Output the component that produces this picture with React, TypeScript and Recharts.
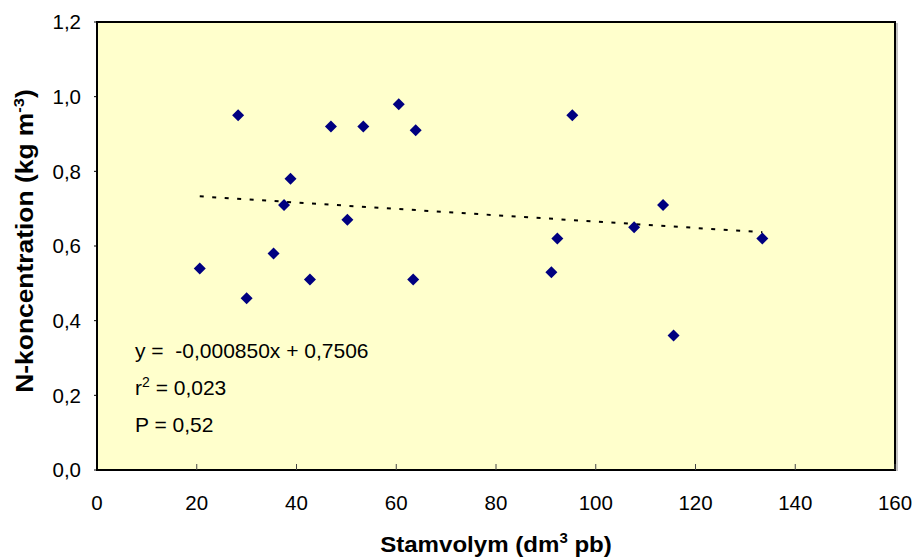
import React from "react";
import {
  ScatterChart,
  Scatter,
  XAxis,
  YAxis,
  ReferenceArea,
  ReferenceLine,
} from "recharts";

// stem volume (dm3 pb)
const stemVolume = [
  20.6, 28.3, 30.0, 35.4, 37.5, 38.8, 42.7, 46.9, 50.2, 53.4,
  60.5, 63.4, 63.9, 91.1, 92.3, 95.3, 107.7, 113.5, 115.6, 133.4,
];
// N concentration (kg m-3)
const nConc = [
  0.54, 0.95, 0.46, 0.58, 0.71, 0.78, 0.51, 0.92, 0.67, 0.92,
  0.98, 0.51, 0.91, 0.53, 0.62, 0.95, 0.65, 0.71, 0.36, 0.62,
];

// regression line end points
const trendX = [20.6, 133.4];
const trendY = [0.733, 0.637];

const xTicks = [0, 20, 40, 60, 80, 100, 120, 140, 160];
const yTicks = [0, 0.2, 0.4, 0.6, 0.8, 1.0, 1.2];

const data = stemVolume.map((x, i) => ({ x, y: nConc[i] }));

const FONT = '"Liberation Sans", Arial, sans-serif';

const Diamond = (props: any) => {
  const { cx, cy } = props;
  const r = 6;
  return (
    <path
      d={`M${cx},${cy - r}L${cx + r},${cy}L${cx},${cy + r}L${cx - r},${cy}Z`}
      fill="#000080"
    />
  );
};

const App = () => {
  return (
    <div style={{ position: "absolute", left: 0, top: 0, width: 914, height: 558, fontFamily: FONT }}>
      <ScatterChart
        width={914}
        height={558}
        margin={{ top: 22, right: 19, bottom: 0, left: 0 }}
      >
        <ReferenceArea
          x1={0}
          x2={160}
          y1={0}
          y2={1.2}
          fill="#FFFFCC"
          fillOpacity={1}
          stroke="#000"
          strokeWidth={2}
        />
        <XAxis
          type="number"
          dataKey="x"
          domain={[0, 160]}
          ticks={xTicks}
          height={88}
          tickSize={-6}
          tickMargin={31}
          axisLine={{ stroke: "#000", strokeWidth: 2 }}
          tickLine={{ stroke: "#444" }}
          tick={{ fill: "#000", fontSize: 20.5, fontFamily: FONT }}
          interval={0}
        />
        <YAxis
          type="number"
          dataKey="y"
          domain={[0, 1.2]}
          ticks={yTicks}
          width={97}
          tickSize={3}
          tickMargin={13}
          axisLine={{ stroke: "#000", strokeWidth: 2 }}
          tickLine={{ stroke: "#000" }}
          tick={{ fill: "#000", fontSize: 20.5, fontFamily: FONT }}
          tickFormatter={(v: number) => v.toFixed(1).replace(".", ",")}
          interval={0}
        />
        <ReferenceLine
          segment={[
            { x: trendX[0], y: trendY[0] },
            { x: trendX[1], y: trendY[1] },
          ]}
          stroke="#000"
          strokeWidth={2}
          strokeDasharray="4 8.5"
        />
        <Scatter data={data} shape={Diamond} isAnimationActive={false} />
      </ScatterChart>
      <svg
        width={914}
        height={558}
        style={{ position: "absolute", left: 0, top: 0, pointerEvents: "none" }}
        fontFamily={FONT}
      >
        <line x1={897} y1={23} x2={897} y2={471} stroke="#888" strokeWidth={1} />
        <text x={135} y={358} fontSize={21} fill="#000" xmlSpace="preserve">
          y =  -0,000850x + 0,7506
        </text>
        <text x={135} y={395} fontSize={21} fill="#000">
          r<tspan dy={-8} fontSize={14}>2</tspan>
          <tspan dy={8}> = 0,023</tspan>
        </text>
        <text x={135} y={432} fontSize={21} fill="#000">
          P = 0,52
        </text>
        <text
          transform="translate(496,552) scale(1.07,1)"
          fontSize={22.5}
          fontWeight="bold"
          textAnchor="middle"
          fill="#000"
        >
          Stamvolym (dm<tspan dy={-9} fontSize={14}>3</tspan>
          <tspan dy={9}> pb)</tspan>
        </text>
        <text
          transform="translate(33,241) rotate(-90) scale(1.1,1)"
          fontSize={24}
          fontWeight="bold"
          textAnchor="middle"
          fill="#000"
        >
          N-koncentration (kg m<tspan dy={-9} fontSize={15}>-3</tspan>
          <tspan dy={9}>)</tspan>
        </text>
      </svg>
    </div>
  );
};

export default App;
